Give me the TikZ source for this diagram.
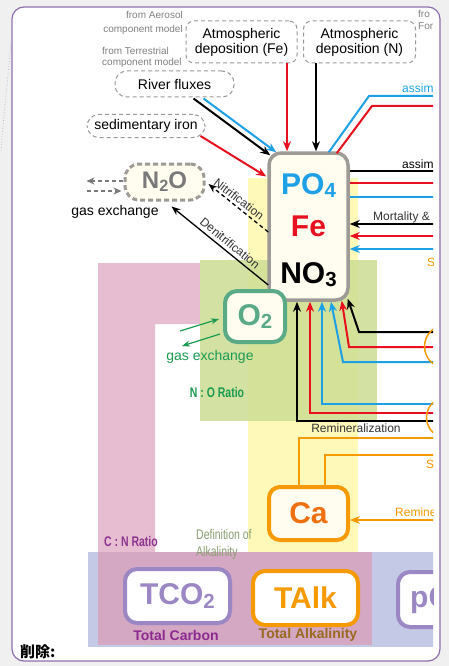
\documentclass[tikz,border=0pt]{standalone}
\usepackage{fontspec}
\setmainfont{Liberation Sans}
\newfontfamily\cjkfont{Noto Sans CJK JP}
\usetikzlibrary{arrows.meta,calc}
\definecolor{bggray}{HTML}{F0F0F0}
\definecolor{framec}{HTML}{8E6FAE}
\definecolor{yelc}{HTML}{FFF9B9}
\definecolor{grnc}{HTML}{CCDE93}
\definecolor{pinkc}{HTML}{E7BDD1}
\definecolor{bluec}{HTML}{C4C9E5}
\definecolor{pinkbc}{HTML}{D4A7C3}
\definecolor{cblue}{HTML}{1EA0E6}
\definecolor{cred}{HTML}{E8101E}
\definecolor{corange}{HTML}{F59A00}
\definecolor{caorange}{HTML}{EE7010}
\definecolor{boxgray}{HTML}{9E9A95}
\definecolor{n2ogray}{HTML}{7A7A7A}
\definecolor{cream}{HTML}{FFFDF0}
\definecolor{o2green}{HTML}{5AAA88}
\definecolor{gasgreen}{HTML}{1A9A50}
\definecolor{tpurple}{HTML}{9B87C3}
\definecolor{tcpurple}{HTML}{8C2A90}
\definecolor{cnpurple}{HTML}{8C3590}
\definecolor{tabrown}{HTML}{9A6A20}
\definecolor{defgreen}{HTML}{8A9E72}
\definecolor{dashgray}{HTML}{999999}
\definecolor{smallgray}{HTML}{808080}
\definecolor{txtgray}{HTML}{333333}
\newcommand\fsA{\fontsize{14pt}{15pt}\selectfont}
\newcommand\fsB{\fontsize{12pt}{13pt}\selectfont}
\newcommand\fsS{\fontsize{10pt}{12pt}\selectfont}
\newcommand\fsBig{\fontsize{30pt}{32pt}\selectfont}
\newcommand\fsMid{\fontsize{24pt}{26pt}\selectfont}
\newcommand\lowsub[1]{\raisebox{-0.12em}{\scalebox{0.68}{#1}}}
\newcommand\narrowtxt[1]{\scalebox{0.75}[1]{#1}}
\tikzset{
  dbox/.style={draw=dashgray, dash pattern=on 4pt off 3pt, line width=1pt, rounded corners=8pt, fill=white, inner sep=0pt, align=center, font=\fsA},
  pill/.style={dbox, rounded corners=12pt},
  arr/.style={line width=2pt, -{Stealth[length=10pt,width=8pt]}},
  ln/.style={line width=2pt},
  thinarr/.style={line width=1.3pt, -{Stealth[length=9pt,width=7pt]}},
  bigbox/.style={line width=3.5pt, rounded corners=12pt, inner sep=0pt},
  big/.style={font=\fsBig\bfseries, inner sep=0pt},
  smalltxt/.style={font=\fsB, inner sep=0pt}
}
\begin{document}
\begin{tikzpicture}[x=1pt,y=-1pt]
\useasboundingbox (0,0) rectangle (449,666);
\fill[bggray] (0,0) rectangle (449,666);
\draw[framec, line width=1.2pt, fill=white, rounded corners=12pt] (12,7) rectangle (440,661);
\draw[framec!55, dotted, line width=0.7pt] (13,18) .. controls (10,60) and (4,110) .. (1,150);
\begin{scope}
\clip (0,0) rectangle (433,666);
% shaded regions
\fill[yelc] (248,178) rectangle (358,552);
\fill[pinkc] (98,263) -- (200,263) -- (200,324) -- (155,324) -- (155,552) -- (98,552) -- cycle;
\fill[grnc, opacity=0.85] (200,260) rectangle (377,421);
\fill[bluec] (88,552) rectangle (440,647);
\fill[pinkbc] (98,552) rectangle (372,645);
% small source texts
\node[font=\fontsize{10pt}{14.4pt}\selectfont, text=smallgray, align=right, anchor=north east, inner sep=0pt] (aer) at (183,11) {from Aerosol\\component model};
\node[font=\fontsize{10pt}{11.5pt}\selectfont, text=smallgray, align=left, anchor=north west, inner sep=0pt] (ter) at (102,47) {from Terrestrial\\component model};
\node[font=\fontsize{10pt}{12pt}\selectfont, text=smallgray, align=left, anchor=north west, inner sep=0pt] (forr) at (418,10) {fro\\For};
% dashed source boxes
\node[dbox, minimum width=111pt, minimum height=42pt] (atmfe) at (241.5,42) {Atmospheric\\deposition (Fe)};
\node[dbox, minimum width=112pt, minimum height=42pt] (atmn) at (359.5,42) {Atmospheric\\deposition (N)};
\node[pill, minimum width=119pt, minimum height=26pt] (river) at (174.5,84) {River fluxes};
\node[pill, minimum width=118pt, minimum height=23pt] (sed) at (146,126) {sedimentary iron};
% main box
\node[bigbox, draw=boxgray, fill=cream, minimum width=79pt, minimum height=147pt] (main) at (308.5,226.5) {};
\node[big, text=cblue, anchor=base] (po4) at (308.5,194) {PO\lowsub{4}};
\node[big, text=cred, anchor=base] (fe) at (308.5,236) {Fe};
\node[big, anchor=base] (no3) at (308.5,283) {NO\lowsub{3}};
% N2O
\node[draw=boxgray, dash pattern=on 5pt off 3pt, line width=3pt, rounded corners=14pt, fill=cream, minimum width=79pt, minimum height=36pt, inner sep=0pt, font=\fsMid\bfseries, text=n2ogray] (n2o) at (164.5,182) {N\lowsub{2}O};
\node[font=\fsA, inner sep=0pt] (gasx) at (115,212) {gas exchange};
% O2
\node[draw=o2green, line width=4pt, rounded corners=12pt, fill=cream, minimum width=60pt, minimum height=51pt, inner sep=0pt, font=\fsBig\bfseries, text=o2green] (o2) at (255,316.5) {O\lowsub{2}};
\node[font=\fsA, text=gasgreen, inner sep=0pt] (gasg) at (210,357) {gas exchange};
\node[font=\fsA\bfseries, text=gasgreen, inner sep=0pt] (nor) at (217,392) {\narrowtxt{N : O Ratio}};
% Ca
\node[draw=corange, line width=4pt, rounded corners=11pt, fill=cream, minimum width=79pt, minimum height=53pt, inner sep=0pt, font=\fsBig\bfseries, text=caorange] (ca) at (308.5,513.5) {Ca};
% bottom boxes
\node[draw=tpurple, line width=4pt, rounded corners=12pt, fill=white, minimum width=105pt, minimum height=54pt, inner sep=0pt, font=\fsBig\bfseries, text=tpurple] (tco2) at (177.5,596) {TCO\lowsub{2}};
\node[draw=corange, line width=4pt, rounded corners=12pt, fill=white, minimum width=105pt, minimum height=54pt, inner sep=0pt, font=\fsBig\bfseries, text=corange] (talk) at (305.5,598) {TAlk};
\node[draw=tpurple, line width=4pt, rounded corners=12pt, fill=white, minimum width=105pt, minimum height=55pt, inner sep=0pt] (pco2) at (450.5,599.5) {};
\node[font=\fsBig\bfseries, text=tpurple, anchor=west, inner sep=0pt] (pco2t) at (410,600) {pC};
\node[font=\fsA\bfseries, text=tcpurple, inner sep=0pt] (tcl) at (176,635) {Total Carbon};
\node[font=\fsA\bfseries, text=tabrown, inner sep=0pt] (tal) at (308,635) {Total Alkalinity};
\node[font=\fsA\bfseries, text=cnpurple, inner sep=0pt] (cnr) at (131,541) {\narrowtxt{C : N Ratio}};
\node[font=\fontsize{14pt}{17pt}\selectfont, text=defgreen, align=left, anchor=west, inner sep=0pt] (defalk) at (196,544) {\narrowtxt{Definition of}\\\narrowtxt{Alkalinity}};
% arrows into main from top
\draw[arr] ($(river.south)+(19,1)$) -- ($(main.north west)+(3,4)$);
\draw[arr, cblue] ($(river.south)+(29,1)$) -- ($(main.north west)+(9,1)$);
\draw[arr, cred] ($(sed.south east)+(-5,-2)$) -- ($(main.west)+(-1,-50)$);
\draw[arr, cred] (287,0 |- atmfe.south) -- (287,0 |- main.north);
\draw[arr] (316,0 |- atmn.south) -- (316,0 |- main.north);
\draw[ln, cblue] ($(main.north east)+(-21,1)$) -- (369,96) -- (450,96);
\draw[ln, cred] ($(main.north east)+(-13,2)$) -- (372,106) -- (450,106);
\node[smalltxt, text=cblue, anchor=base west] (as1) at (402,93) {assim};
% right side
\draw[ln] (main.east |- 0,171) -- (450,171);
\draw[ln, cred] (main.east |- 0,183) -- (450,183);
\draw[ln, cblue] (main.east |- 0,197) -- (450,197);
\node[smalltxt, anchor=base west] (as2) at (402,168) {assim};
\draw[arr] (450,224) -- (main.east |- 0,224);
\draw[arr, cred] (450,236) -- (main.east |- 0,236);
\draw[arr, cblue] (450,249) -- (main.east |- 0,249);
\node[smalltxt, text=txtgray, anchor=base west] (mort) at (373,220) {Mortality \& I};
\node[smalltxt, text=corange, anchor=base west] (s1) at (427,266) {S};
% bottom into main
\draw[arr] (450,421) -- (297,421) -- (297,0 |- main.south);
\draw[arr, cred] (450,413) -- (310,413) -- (310,0 |- main.south);
\draw[arr, cblue] (450,404) -- (322,404) -- (322,0 |- main.south);
\draw[arr, cblue] (450,362) -- (343,362) -- (331,0 |- main.south);
\draw[arr, cred] (450,347) -- (349,347) -- ($(main.south east)+(-8,-1)$);
\draw[arr] (450,332) -- (359,332) -- ($(main.south east)+(-2,-3)$);
\node[smalltxt, text=txtgray] (remin) at (356,428) {Remineralization};
\draw[corange, line width=1.5pt] (446,346.5) circle (21.5);
\draw[corange, line width=1.5pt] (447,417.5) circle (20.5);
% Ca connectors
\draw[ln, corange] (299,0 |- ca.north) -- (299,438) -- (450,438);
\draw[ln, corange] (325,0 |- ca.north) -- (325,455) -- (450,455);
\node[smalltxt, text=corange, anchor=base west] (s2) at (426,468) {S};
\draw[arr, corange] (450,520) -- (ca.east |- 0,520);
\node[smalltxt, text=corange, anchor=base west] (remo) at (395,516) {Remine};
% N2O connectors
\draw[thinarr, dash pattern=on 4pt off 3pt] ($(main.west)+(1,5.5)$) -- ($(n2o.east)+(3,2)$);
\node[smalltxt, text=txtgray, rotate=-37.7] (nitr) at (239,199) {Nitrification};
\draw[thinarr] ($(main.west)+(1,58.5)$) -- ($(n2o.south)+(7,5)$);
\node[smalltxt, text=txtgray, rotate=-39.2] (denitr) at (230,243) {Denitrification};
\draw[line width=1.1pt, n2ogray, dash pattern=on 4pt off 3pt, -{Stealth[length=8pt,width=7pt]}] ($(n2o.west)+(-1,-1)$) -- ++(-36,0);
\draw[line width=1.1pt, n2ogray, dash pattern=on 4pt off 3pt, -{Stealth[length=8pt,width=7pt]}] (87,191) -- ($(n2o.west)+(-2,9)$);
% O2 gas exchange
\draw[line width=1.2pt, gasgreen, -{Stealth[length=8pt,width=6pt]}] (180,331) -- ($(o2.west)+(-4,2.5)$);
\draw[line width=1.2pt, gasgreen, -{Stealth[length=8pt,width=6pt]}] ($(o2.west)+(-3,17.5)$) -- (182,346);
\end{scope}
\node[font=\cjkfont\bfseries\fontsize{15pt}{15pt}\selectfont, anchor=west, inner sep=0pt] (del) at (20,652) {削除:};
\end{tikzpicture}
\end{document}
